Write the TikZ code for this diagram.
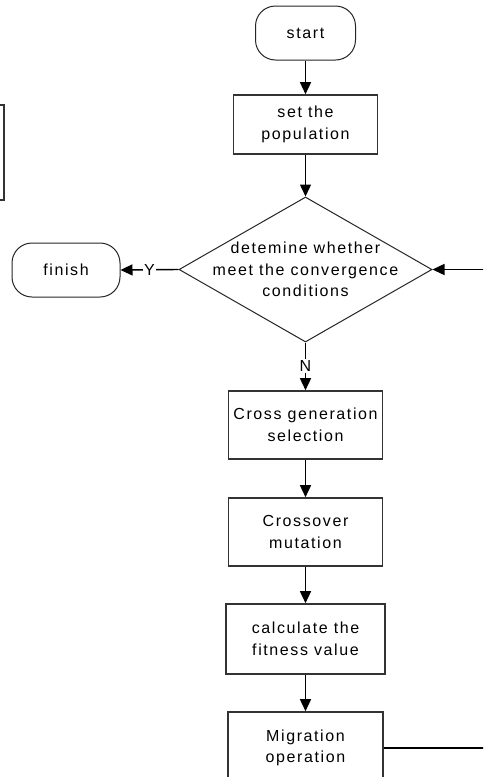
\documentclass[tikz,border=0pt]{standalone}
\usepackage{fontspec}
\setmainfont{Liberation Sans}[LetterSpace=10]
\usetikzlibrary{shapes.geometric,arrows.meta}
\begin{document}
\begin{tikzpicture}[x=1pt,y=-1pt,
  txt/.style={font=\fontsize{16}{21.5}\selectfont, align=center, text=black},
  proc/.style={txt, draw=black!80, line width=1.6pt, inner sep=2pt},
  term/.style={txt, draw=black!85, line width=1pt, rounded corners=20pt, inner sep=2pt},
  dia/.style={shape=diamond, draw=black!85, line width=1pt, inner sep=0pt, minimum width=253pt, minimum height=145pt},
  conn/.style={draw=black, line width=1.4pt, -{Triangle[width=11pt,length=12pt]}},
  lab/.style={txt, fill=white, inner sep=1.5pt}]
\clip (0,0) rectangle (483,777);
\fill[white] (0,0) rectangle (483,777);

\node[proc, minimum width=100pt, minimum height=95pt, anchor=east] (frag) at (5,152.5) {};
\node[term, minimum width=100pt, minimum height=54pt] (start) at (305.5,33) {start};
\node[proc, minimum width=144pt, minimum height=59pt] (set) at (305.5,124.5) {set the\\population};
\node[dia] (dec) at (305.5,269.5) {};
\node[txt] (dectext) at (dec.center) {detemine whether\\meet the convergence\\conditions};
\node[term, minimum width=108pt, minimum height=54pt] (finish) at (66,270) {finish};
\node[proc, minimum width=154pt, minimum height=68pt] (cross) at (305.5,425) {Cross generation\\selection};
\node[proc, minimum width=154pt, minimum height=68pt] (mut) at (305.5,532) {Crossover\\mutation};
\node[proc, minimum width=159pt, minimum height=70pt] (fit) at (305.5,639) {calculate the\\fitness value};
\node[proc, minimum width=155pt, minimum height=72pt] (mig) at (305.5,748) {Migration\\operation};

\coordinate (loopA) at (495,748);
\coordinate (loopB) at (495,269.5);

\draw[conn] (start.south) -- (set.north);
\draw[conn] (set.south) -- (dec.north);
\draw[conn] (dec.west) -- node[lab] {Y} (finish.east);
\draw[conn] (dec.south) -- node[lab] {N} (cross.north);
\draw[conn] (cross.south) -- (mut.north);
\draw[conn] (mut.south) -- (fit.north);
\draw[conn] (fit.south) -- (mig.north);
\draw[conn] (mig.east) -- (loopA) -- (loopB) -- (dec.east);
\end{tikzpicture}
\end{document}
